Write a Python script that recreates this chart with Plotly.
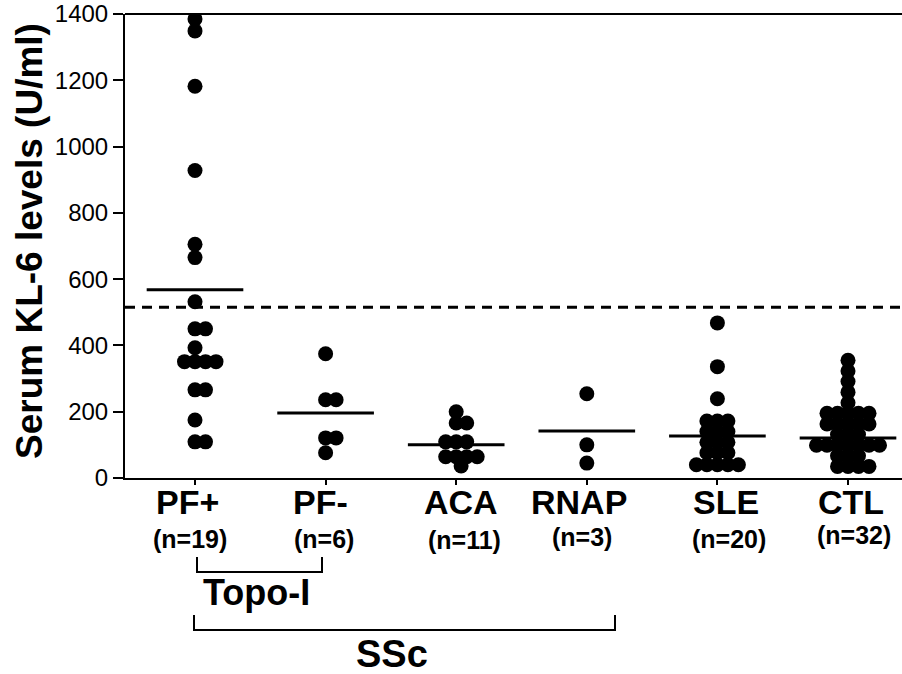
import math
import plotly.graph_objects as go

# Serum KL-6 levels (U/ml) per patient group
categories = ["PF+", "PF-", "ACA", "RNAP", "SLE", "CTL"]
n_labels = ["(n=19)", "(n=6)", "(n=11)", "(n=3)", "(n=20)", "(n=32)"]

pf_pos = [1385, 1349, 1182, 928, 705, 665, 532, 450, 450, 393,
          351, 351, 351, 351, 266, 266, 175, 109, 109]
pf_neg = [375, 236, 236, 121, 121, 76]
aca = [200, 166, 166, 109, 109, 109, 64, 64, 64, 64, 36]
rnap = [254, 100, 45]
sle = [468, 336, 239, 172, 172, 172, 140, 140, 140, 108, 108, 108,
       76, 76, 76, 40, 40, 40, 40, 40]
ctl = [355, 323, 291, 259, 227, 195, 195, 195, 195, 195,
       163, 163, 163, 163, 163, 131, 131, 131,
       99, 99, 99, 99, 99, 99, 99, 67, 67, 67, 35, 35, 35, 35]

group_values = [pf_pos, pf_neg, aca, rnap, sle, ctl]
group_means = [568, 196, 100, 142, 127, 121]
cutoff = 515

# layout geometry (pixels)
W, H = 902, 674
ML, MR, MT, MB = 125, 0, 14, 196
PW, PH = W - ML - MR, H - MT - MB
X0, XSTEP = 195.0, 130.6
x_range = [(ML - X0) / XSTEP, (W - MR - X0) / XSTEP]
y_range = [0, 1400]
px_per_x = XSTEP
px_per_y = PH / (y_range[1] - y_range[0])


def px_to_paper_x(px):
    return (px - ML) / PW


def py_to_paper_y(py):
    return (H - MB - py) / PH


def swarm_offsets(values, d):
    """Greedy beeswarm: horizontal offsets (pixels) so dots stay >= d apart."""
    order = sorted(range(len(values)), key=lambda i: -values[i])
    placed = []
    offsets = [0.0] * len(values)
    for i in order:
        yp = values[i] * px_per_y
        intervals = []
        for (xj, yj) in placed:
            dy = abs(yp - yj)
            if dy < d:
                h = math.sqrt(d * d - dy * dy)
                intervals.append((xj - h, xj + h))
        cands = [0.0]
        for a, b in intervals:
            cands += [a, b]
        cands.sort(key=lambda c: (abs(c), -c))
        best = 0.0
        for c in cands:
            if all(not (a + 1e-6 < c < b - 1e-6) for a, b in intervals):
                best = c
                break
        offsets[i] = best
        placed.append((best, yp))
    return offsets


fig = go.Figure()

DOT_GAP = 10.5
for gi, vals in enumerate(group_values):
    offs = swarm_offsets(vals, DOT_GAP)
    xs = [gi + o / px_per_x for o in offs]
    fig.add_trace(go.Scatter(
        x=xs, y=vals, mode="markers",
        marker=dict(size=15, color="black", line=dict(width=0)),
        showlegend=False, hoverinfo="y",
    ))
    # group mean bar
    fig.add_trace(go.Scatter(
        x=[gi - 0.37, gi + 0.37], y=[group_means[gi]] * 2, mode="lines",
        line=dict(color="black", width=3), showlegend=False, hoverinfo="skip",
    ))

shapes = [
    # cut-off line
    dict(type="line", xref="paper", yref="y", x0=0, x1=1, y0=cutoff, y1=cutoff,
         line=dict(color="black", width=3, dash="10px,7px")),
    # top frame line
    dict(type="line", xref="paper", yref="paper", x0=0, x1=1, y0=1, y1=1,
         line=dict(color="black", width=2)),
]


def bracket(x_left, x_right, y_top, y_bottom):
    xl, xr = px_to_paper_x(x_left), px_to_paper_x(x_right)
    yt, yb = py_to_paper_y(y_top), py_to_paper_y(y_bottom)
    return dict(type="path", xref="paper", yref="paper",
                path=f"M{xl},{yt} L{xl},{yb} L{xr},{yb} L{xr},{yt}",
                line=dict(color="black", width=2))


shapes.append(bracket(197, 322, 557, 572))
shapes.append(bracket(194, 615, 615, 630))

FONT = "Liberation Sans, Arial, Helvetica, sans-serif"
annotations = []
label_shift = [-8, -5, 5, -8, 9, 3]
n_y = [539, 539, 540, 537, 539, 535]
for gi, (cat, nl) in enumerate(zip(categories, n_labels)):
    annotations.append(dict(
        x=gi, xref="x", y=py_to_paper_y(502), yref="paper", xshift=label_shift[gi],
        text=f"<b>{cat}</b>", showarrow=False, xanchor="center", yanchor="middle",
        font=dict(family=FONT, size=34, color="black"),
    ))
    annotations.append(dict(
        x=gi, xref="x", y=py_to_paper_y(n_y[gi]), yref="paper", xshift=label_shift[gi] + 3,
        text=f"<b>{nl}</b>", showarrow=False, xanchor="center", yanchor="middle",
        font=dict(family=FONT, size=25, color="black"),
    ))

annotations.append(dict(
    x=px_to_paper_x(256), y=py_to_paper_y(592), xref="paper", yref="paper",
    text="<b>Topo-I</b>", showarrow=False, xanchor="center", yanchor="middle",
    font=dict(family=FONT, size=36, color="black"),
))
annotations.append(dict(
    x=px_to_paper_x(392), y=py_to_paper_y(654), xref="paper", yref="paper",
    text="<b>SSc</b>", showarrow=False, xanchor="center", yanchor="middle",
    font=dict(family=FONT, size=38, color="black"),
))
annotations.append(dict(
    x=px_to_paper_x(29), y=py_to_paper_y(241), xref="paper", yref="paper",
    text="<b>Serum KL-6 levels (U/ml)</b>", showarrow=False, textangle=-90,
    xanchor="center", yanchor="middle",
    font=dict(family=FONT, size=37, color="black"),
))

fig.update_layout(
    width=W, height=H,
    margin=dict(l=ML, r=MR, t=MT, b=MB, pad=0),
    paper_bgcolor="white", plot_bgcolor="white",
    shapes=shapes, annotations=annotations,
    xaxis=dict(range=x_range, showgrid=False, zeroline=False, showline=True,
               linecolor="black", linewidth=2, ticks="outside", ticklen=5,
               tickwidth=2, tickcolor="black", tickvals=list(range(len(categories))),
               showticklabels=False, fixedrange=True),
    yaxis=dict(range=y_range, showgrid=False, zeroline=False, showline=True,
               linecolor="black", linewidth=2, ticks="outside", ticklen=10,
               tickwidth=2, tickcolor="black", tickvals=list(range(0, 1401, 200)),
               tickfont=dict(family=FONT, size=24, color="black"),
               tickprefix="<b>", ticksuffix="</b>", fixedrange=True),
)

fig.write_html("out.html")
